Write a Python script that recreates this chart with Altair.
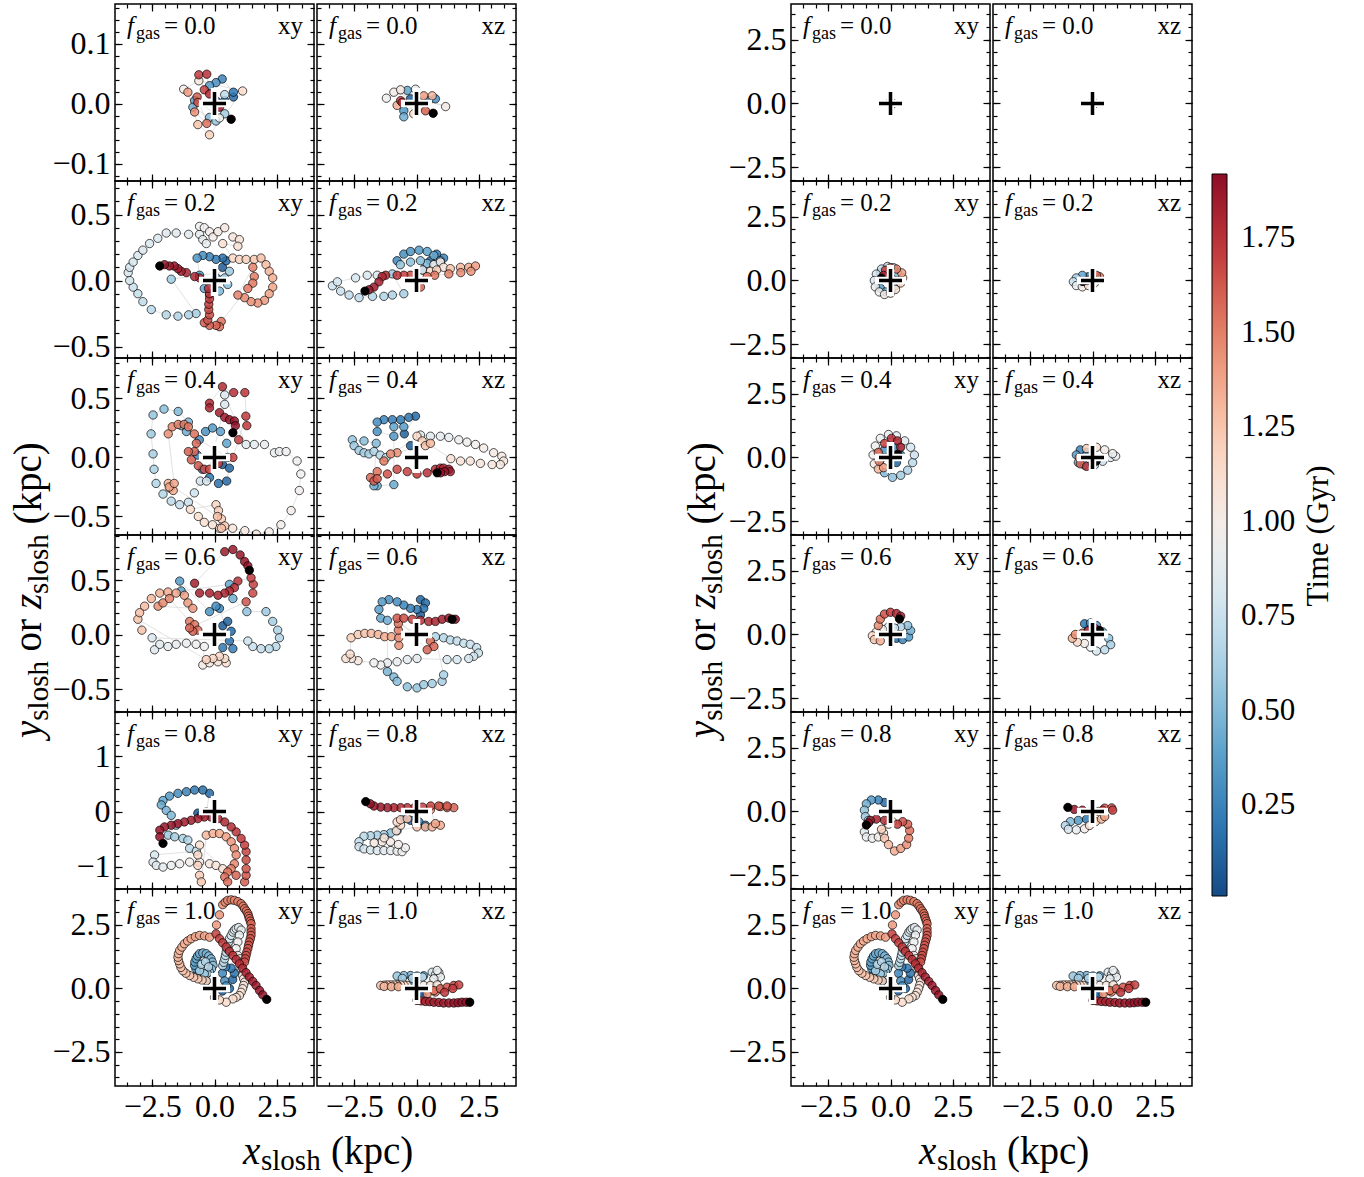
import altair as alt
import pandas as pd

FONT = "Liberation Serif"
T_DOMAIN = [0.01, 1.92]
X_DOMAIN = [-4.0, 4.0]
FGAS = ["0.0", "0.2", "0.4", "0.6", "0.8", "1.0"]
TIME_TICKS = [0.25, 0.5, 0.75, 1.0, 1.25, 1.5, 1.75]
X_MAJOR = [-2.5, 0.0, 2.5]

# ---- trajectories: [x, y (or z), time in Gyr] ----
L00_XY = [[0.06, 0.005, 0.05], [0.41, 0.005, 0.10], [0.76, 0.011, 0.15], [0.76, 0.019, 0.20], [0.31, 0.041, 0.25],
          [0.06, 0.035, 0.30], [-0.20, 0.030, 0.35], [-0.80, 0.005, 0.40], [-0.87, -0.006, 0.45], [-0.20, -0.023, 0.50],
          [0.06, -0.029, 0.55], [0.41, -0.017, 0.60], [0.41, 0.015, 0.70], [0.20, -0.024, 0.95], [-1.24, 0.024, 1.00],
          [-0.63, 0.038, 1.05], [1.13, 0.021, 1.15], [-0.20, -0.052, 1.20], [-0.67, -0.035, 1.25], [-1.07, 0.019, 1.40],
          [-0.80, -0.014, 1.45], [-0.31, -0.033, 1.55], [-0.70, 0.011, 1.60], [-0.67, 0.002, 1.65], [-0.41, 0.023, 1.70],
          [-0.63, 0.048, 1.72], [-0.31, 0.049, 1.75], [-0.20, 0.016, 1.80], [0.20, -0.006, 1.85], [0.67, -0.026, 1.92]]
L00_XZ = [[0.00, 0.002, 0.05], [-0.24, 0.008, 0.10], [0.49, 0.005, 0.20], [0.76, 0.008, 0.30], [-0.51, -0.012, 0.35],
          [-0.37, 0.022, 0.40], [-0.51, -0.022, 0.45], [-0.04, 0.024, 0.90], [-1.21, 0.009, 0.95], [-0.91, 0.019, 1.00],
          [1.17, -0.005, 1.02], [-0.64, 0.023, 1.05], [-0.11, -0.017, 1.15], [0.63, 0.013, 1.30], [-0.78, -0.003, 1.35],
          [0.29, 0.013, 1.40], [0.36, -0.012, 1.60], [-0.64, 0.005, 1.70], [-0.58, 0.002, 1.80], [0.67, -0.016, 1.92]]

L02_XY = [[0.08, 0.02, 0.05], [0.32, 0.10, 0.09], [0.47, 0.15, 0.13], [0.33, 0.17, 0.17], [0.06, 0.16, 0.21],
          [-0.20, 0.18, 0.25], [-0.47, 0.19, 0.29], [-0.70, 0.17, 0.33], [-0.60, 0.04, 0.37], [-0.41, -0.06, 0.41],
          [-0.20, -0.11, 0.45], [0.20, -0.08, 0.49], [0.53, -0.03, 0.52], [0.41, 0.02, 0.55], [0.60, 0.07, 0.58],
          [-1.74, 0.01, 0.59],
          [-0.74, -0.25, 0.61], [-1.04, -0.26, 0.63], [-1.47, -0.27, 0.65], [-1.94, -0.26, 0.67], [-2.54, -0.22, 0.69],
          [-2.88, -0.16, 0.71], [-3.08, -0.10, 0.73], [-3.27, -0.05, 0.75], [-3.41, 0.00, 0.77], [-3.47, 0.06, 0.78],
          [-3.41, 0.10, 0.79], [-3.27, 0.14, 0.80], [-3.08, 0.19, 0.81], [-2.88, 0.23, 0.82], [-2.61, 0.28, 0.83],
          [-2.28, 0.32, 0.84], [-1.94, 0.36, 0.85], [-1.54, 0.36, 0.86], [-1.04, 0.35, 0.87],
          [-0.60, 0.35, 0.88], [-0.47, 0.31, 0.90], [-0.33, 0.28, 0.92], [-0.60, 0.41, 0.94], [-0.41, 0.40, 0.96],
          [-0.20, 0.37, 0.98], [-0.06, 0.33, 1.00], [0.14, 0.37, 1.02], [0.41, 0.40, 1.04], [0.74, 0.33, 1.06],
          [1.00, 0.31, 1.08], [0.94, 0.26, 1.10], [0.33, 0.28, 1.12],
          [0.74, 0.17, 1.15], [1.00, 0.16, 1.18], [1.27, 0.16, 1.20], [1.60, 0.16, 1.23], [1.87, 0.17, 1.26],
          [2.07, 0.12, 1.29], [2.20, 0.07, 1.32], [2.34, 0.02, 1.35], [2.34, -0.05, 1.37], [2.20, -0.10, 1.39],
          [2.01, -0.15, 1.41], [1.74, -0.17, 1.43], [1.47, -0.16, 1.45], [1.21, -0.13, 1.47], [0.94, -0.11, 1.49],
          [1.54, 0.10, 1.50], [1.60, 0.03, 1.51], [1.54, -0.02, 1.52], [1.34, -0.06, 1.53],
          [0.27, -0.31, 1.55], [0.20, -0.35, 1.57], [0.06, -0.34, 1.59], [-0.20, -0.34, 1.61], [-0.41, -0.32, 1.62],
          [-0.27, -0.30, 1.64], [-0.20, -0.26, 1.66], [-0.23, -0.22, 1.68], [-0.23, -0.18, 1.70], [-0.20, -0.14, 1.72],
          [-0.20, -0.10, 1.74], [-0.24, -0.06, 1.76], [-0.60, 0.02, 1.78], [-0.80, 0.03, 1.80], [-1.13, 0.06, 1.82],
          [-1.34, 0.07, 1.84], [-1.47, 0.09, 1.86], [-1.62, 0.11, 1.87], [-1.81, 0.11, 1.88], [-2.01, 0.12, 1.90],
          [-2.20, 0.11, 1.92]]
L02_XZ = [[0.00, 0.00, 0.05], [0.24, 0.08, 0.10], [0.56, 0.15, 0.15], [0.81, 0.20, 0.20], [1.09, 0.17, 0.24],
          [-0.78, 0.15, 0.27], [-0.51, 0.20, 0.30], [-0.24, 0.22, 0.33], [0.10, 0.23, 0.36], [0.43, 0.22, 0.39],
          [0.70, 0.19, 0.42], [0.96, 0.15, 0.45], [0.70, 0.12, 0.48], [0.43, 0.13, 0.50], [0.16, 0.15, 0.52],
          [-0.24, 0.14, 0.54], [-0.65, 0.12, 0.56], [-0.97, 0.05, 0.58],
          [-0.51, -0.10, 0.62], [-0.97, -0.11, 0.64], [-1.31, -0.12, 0.66], [-1.77, -0.12, 0.68], [-2.31, -0.13, 0.70],
          [-2.71, -0.11, 0.72], [-3.05, -0.08, 0.74], [-3.38, -0.04, 0.76], [-3.18, -0.01, 0.78], [-2.45, 0.02, 0.80],
          [-1.98, 0.04, 0.82], [-1.58, 0.04, 0.84],
          [0.24, 0.08, 0.90], [0.70, 0.12, 0.95], [0.96, 0.14, 1.00], [1.09, 0.10, 1.05],
          [0.56, 0.07, 1.15], [0.81, 0.08, 1.20], [1.36, 0.09, 1.25], [1.77, 0.10, 1.30], [2.10, 0.10, 1.35],
          [2.37, 0.11, 1.40], [2.19, 0.07, 1.43], [1.78, 0.06, 1.46], [1.30, 0.05, 1.49], [0.73, 0.04, 1.52],
          [0.43, 0.03, 1.55], [0.16, -0.05, 1.60], [-0.24, 0.04, 1.65], [-0.51, 0.04, 1.70], [-0.78, 0.04, 1.74],
          [-1.24, 0.04, 1.78], [-1.38, 0.03, 1.80], [-1.51, -0.01, 1.83], [-1.71, -0.05, 1.86], [-1.91, -0.07, 1.89],
          [-2.07, -0.08, 1.92]]

L04_XY = [[0.00, 0.00, 0.05], [0.32, -0.06, 0.08], [0.60, -0.09, 0.11], [0.49, -0.20, 0.14], [0.16, -0.22, 0.17],
          [-0.20, -0.17, 0.20], [-0.49, -0.10, 0.23], [-0.69, 0.02, 0.26], [-0.61, 0.15, 0.29], [-0.36, 0.22, 0.32],
          [-0.08, 0.25, 0.35], [0.24, 0.22, 0.38], [0.49, 0.12, 0.40], [0.53, 0.00, 0.42],
          [-1.13, 0.22, 0.44], [-1.34, 0.27, 0.46], [-1.05, 0.30, 0.48], [-1.46, 0.39, 0.50], [-2.03, 0.41, 0.53],
          [-2.47, 0.36, 0.56], [-2.55, 0.20, 0.59], [-2.47, 0.03, 0.62], [-2.43, -0.10, 0.64], [-2.35, -0.22, 0.66],
          [-2.07, -0.31, 0.68], [-1.74, -0.37, 0.70], [-1.40, -0.40, 0.72], [-1.05, -0.38, 0.74], [-0.81, -0.30, 0.76],
          [-0.57, -0.20, 0.78], [-0.32, -0.20, 0.80], [0.41, 0.45, 0.82], [0.41, 0.53, 0.84],
          [1.27, 0.11, 0.86], [1.60, 0.11, 0.88], [2.01, 0.11, 0.90], [2.41, 0.04, 0.92], [2.61, 0.05, 0.93],
          [2.88, 0.05, 0.94], [3.32, -0.03, 0.95], [3.47, -0.14, 0.96], [3.41, -0.28, 0.97], [3.08, -0.45, 0.98],
          [2.67, -0.57, 0.99], [2.20, -0.63, 1.00], [1.68, -0.65, 1.02], [1.22, -0.62, 1.03],
          [0.73, -0.60, 1.05], [0.20, -0.60, 1.08], [-0.08, -0.57, 1.10], [-0.41, -0.55, 1.12], [-0.65, -0.50, 1.13],
          [-0.97, -0.44, 1.14],
          [0.06, -0.40, 1.18], [0.16, -0.45, 1.20], [0.28, -0.52, 1.22], [0.41, -0.58, 1.24], [0.28, -0.60, 1.26],
          [0.12, -0.50, 1.28],
          [-1.86, -0.22, 1.32], [-1.78, -0.26, 1.34], [-1.66, -0.28, 1.36], [-1.82, -0.25, 1.37], [-1.62, -0.22, 1.38],
          [-1.86, 0.20, 1.45], [-1.70, 0.26, 1.47], [-1.46, 0.28, 1.49], [-1.22, 0.28, 1.51], [-1.05, 0.26, 1.53],
          [-0.81, 0.20, 1.55], [-0.73, 0.12, 1.57], [-0.81, 0.05, 1.59], [-1.05, 0.05, 1.60], [-0.93, -0.02, 1.61],
          [-0.65, -0.07, 1.63], [-0.41, -0.10, 1.65], [-0.20, -0.10, 1.67], [0.16, -0.05, 1.69], [0.74, 0.00, 1.70],
          [0.97, 0.15, 1.71], [1.26, 0.35, 1.72], [1.30, 0.27, 1.73], [1.22, 0.55, 1.74], [0.77, 0.55, 1.76],
          [0.32, 0.60, 1.78], [-0.20, 0.46, 1.80], [-0.20, 0.42, 1.81], [0.20, 0.38, 1.84], [0.41, 0.34, 1.86],
          [0.60, 0.32, 1.88], [0.80, 0.31, 1.89], [0.84, 0.27, 1.90], [0.74, 0.21, 1.92]]
L04_XZ = [[0.00, 0.00, 0.05], [-0.24, 0.10, 0.08], [-0.49, 0.20, 0.11], [-0.04, 0.35, 0.14], [-0.31, 0.34, 0.17],
          [-0.64, 0.32, 0.20], [-0.97, 0.32, 0.23], [-1.31, 0.32, 0.26], [-1.58, 0.30, 0.29], [-1.58, 0.22, 0.31],
          [-0.91, 0.18, 0.34], [-0.51, 0.26, 0.37], [-0.91, 0.26, 0.40], [-0.91, -0.23, 0.43], [-1.58, -0.24, 0.45],
          [-1.71, -0.24, 0.47],
          [-1.62, 0.12, 0.50], [-2.11, 0.14, 0.53], [-2.58, 0.15, 0.56], [-2.51, 0.10, 0.58], [-2.31, 0.06, 0.60],
          [-2.11, 0.04, 0.62], [-1.91, 0.03, 0.64], [-1.71, 0.05, 0.66], [-1.46, 0.02, 0.68], [-1.22, 0.00, 0.70],
          [0.16, 0.19, 0.85], [0.56, 0.18, 0.87], [0.96, 0.18, 0.89], [1.30, 0.17, 0.91], [1.70, 0.15, 0.93],
          [2.03, 0.13, 0.95], [2.37, 0.11, 0.97], [2.70, 0.08, 0.99], [3.10, 0.04, 1.01], [3.43, 0.01, 1.03],
          [3.50, -0.03, 1.04], [3.37, -0.06, 1.05], [3.04, -0.06, 1.06], [2.57, -0.05, 1.07], [2.16, -0.03, 1.08],
          [1.77, -0.03, 1.09], [1.38, -0.01, 1.10],
          [0.02, 0.18, 1.15], [0.23, 0.14, 1.20], [0.36, 0.10, 1.25], [0.56, 0.12, 1.30],
          [-0.78, 0.04, 1.45], [-1.04, 0.03, 1.48], [-1.31, -0.03, 1.51], [-1.58, -0.12, 1.54], [-1.85, -0.17, 1.57],
          [-1.71, -0.20, 1.60], [-1.58, -0.18, 1.62], [-1.17, -0.14, 1.64], [-0.78, -0.10, 1.67], [-0.37, -0.12, 1.70],
          [0.02, -0.14, 1.72], [0.43, -0.13, 1.75],
          [0.76, -0.10, 1.78], [0.96, -0.09, 1.80], [1.09, -0.09, 1.82], [1.30, -0.10, 1.84], [1.36, -0.12, 1.86],
          [1.13, -0.12, 1.88], [0.97, -0.13, 1.90], [0.83, -0.13, 1.92]]

L06_XY = [[0.00, 0.00, 0.05], [0.33, 0.08, 0.08], [0.53, 0.12, 0.11], [0.67, 0.03, 0.14], [0.60, -0.06, 0.17],
          [0.33, -0.12, 0.20], [0.74, -0.13, 0.23], [0.20, 0.24, 0.26], [0.06, 0.26, 0.29], [-0.20, 0.21, 0.32],
          [-1.40, 0.49, 0.36], [-1.34, 0.40, 0.39], [0.60, 0.46, 0.42], [0.74, 0.33, 0.45],
          [1.30, 0.21, 0.55], [2.07, 0.21, 0.58], [2.34, 0.12, 0.61], [2.54, 0.04, 0.64], [2.61, -0.03, 0.66],
          [2.47, -0.11, 0.68], [2.20, -0.13, 0.70], [1.87, -0.13, 0.72], [1.54, -0.11, 0.74], [1.34, -0.06, 0.76],
          [-2.51, -0.03, 0.82], [-2.41, -0.14, 0.84], [-2.20, -0.09, 0.86], [-1.87, -0.11, 0.88], [-1.54, -0.09, 0.90],
          [-1.13, -0.08, 0.92], [-0.74, -0.09, 0.94], [-0.41, -0.11, 0.96],
          [-0.47, -0.28, 1.02], [-0.20, -0.26, 1.05], [0.14, -0.25, 1.08], [0.47, -0.26, 1.11], [0.41, -0.22, 1.13],
          [0.20, -0.20, 1.15], [-0.06, -0.22, 1.17], [-0.33, -0.23, 1.19],
          [-3.08, 0.14, 1.25], [-2.92, 0.04, 1.26], [-3.01, 0.20, 1.27], [-2.81, 0.26, 1.29], [-2.54, 0.33, 1.31],
          [-2.20, 0.38, 1.33], [-1.87, 0.39, 1.35], [-1.54, 0.38, 1.37], [-1.21, 0.36, 1.39], [-1.07, 0.29, 1.41],
          [-0.87, 0.24, 1.43], [-2.27, 0.26, 1.45], [-2.07, 0.29, 1.47], [-1.81, 0.33, 1.49],
          [-1.00, 0.12, 1.52], [-0.80, 0.09, 1.54], [-0.67, 0.04, 1.56], [-0.87, 0.03, 1.58], [-1.00, 0.06, 1.60],
          [1.27, 0.30, 1.64], [1.54, 0.38, 1.67], [1.56, 0.46, 1.70], [1.47, 0.52, 1.72], [0.94, 0.49, 1.75],
          [0.80, 0.43, 1.77], [0.60, 0.40, 1.79], [0.41, 0.38, 1.80], [0.14, 0.36, 1.81], [-0.20, 0.38, 1.82],
          [-0.60, 0.38, 1.83], [-0.80, 0.47, 1.84], [0.41, 0.76, 1.86], [0.74, 0.78, 1.87], [1.03, 0.73, 1.88],
          [1.21, 0.67, 1.89], [1.34, 0.63, 1.90], [1.40, 0.59, 1.92]]
L06_XZ = [[0.00, 0.00, 0.05], [0.16, 0.18, 0.08], [0.16, 0.32, 0.11], [0.36, 0.29, 0.14], [0.29, 0.24, 0.17],
          [0.02, 0.23, 0.20], [-0.24, 0.24, 0.23], [-0.51, 0.27, 0.26], [-0.78, 0.30, 0.29], [-1.11, 0.32, 0.32],
          [-1.38, 0.30, 0.35], [-1.51, 0.23, 0.38], [-1.44, 0.15, 0.41], [-1.17, 0.13, 0.44],
          [-1.17, -0.34, 0.48], [-0.91, -0.39, 0.50], [-0.78, -0.43, 0.52], [-0.37, -0.48, 0.54], [0.02, -0.49, 0.56],
          [0.29, -0.46, 0.58], [0.63, -0.45, 0.60], [1.03, -0.43, 0.62], [1.09, -0.37, 0.63],
          [0.76, -0.02, 0.66], [1.09, -0.03, 0.68], [1.36, -0.05, 0.70], [1.63, -0.06, 0.72], [1.90, -0.08, 0.73],
          [2.16, -0.09, 0.74], [2.42, -0.12, 0.75], [2.49, -0.17, 0.76], [2.30, -0.20, 0.77], [2.10, -0.22, 0.78],
          [1.63, -0.23, 0.79], [1.23, -0.23, 0.80],
          [0.02, -0.22, 0.86], [-0.37, -0.23, 0.88], [-0.78, -0.25, 0.90], [-1.17, -0.26, 0.92], [-1.44, -0.28, 0.94],
          [-1.71, -0.26, 0.96],
          [-2.35, -0.24, 1.05], [-2.61, -0.22, 1.08], [-2.84, -0.22, 1.10], [-2.67, -0.18, 1.13], [-2.63, -0.03, 1.20],
          [-2.35, 0.00, 1.23], [-2.08, 0.01, 1.26], [-1.82, 0.01, 1.29], [-1.54, 0.00, 1.32], [-1.28, -0.02, 1.35],
          [-1.01, -0.02, 1.38],
          [-0.71, -0.10, 1.45], [-0.71, -0.03, 1.48], [-0.73, 0.04, 1.51], [-0.73, 0.10, 1.54], [0.56, -0.06, 1.57],
          [0.70, -0.11, 1.58], [0.43, -0.14, 1.59],
          [-0.78, 0.15, 1.62], [-0.51, 0.15, 1.66], [-0.17, 0.14, 1.70], [0.16, 0.13, 1.74], [0.49, 0.12, 1.78],
          [0.76, 0.12, 1.81], [1.03, 0.14, 1.84], [1.30, 0.15, 1.87], [1.56, 0.14, 1.90], [1.43, 0.14, 1.92]]

L08_XY = [[0.00, 0.00, 0.05], [-0.67, -0.03, 0.07], [-0.53, -0.06, 0.09], [-0.33, -0.01, 0.11], [-0.20, 0.33, 0.13],
          [-0.47, 0.39, 0.16], [-0.80, 0.39, 0.20], [-1.13, 0.36, 0.25], [-1.47, 0.33, 0.30], [-1.81, 0.28, 0.35],
          [-2.07, 0.20, 0.40], [-2.14, 0.12, 0.43], [-1.94, 0.02, 0.46], [-1.74, -0.07, 0.49], [-1.54, -0.25, 0.55],
          [-1.86, -0.43, 0.58], [-1.60, -0.46, 0.60], [-1.27, -0.49, 0.63], [-1.07, -0.52, 0.66], [-1.00, -0.67, 0.70],
          [-0.73, -0.72, 0.73],
          [-2.41, -0.79, 0.80], [-2.47, -0.92, 0.83], [-2.34, -0.98, 0.86], [-2.07, -1.01, 0.89], [-1.74, -0.98, 0.92],
          [-1.40, -0.95, 0.95], [-1.00, -0.92, 0.98], [-0.60, -0.92, 1.01], [-0.20, -0.95, 1.04], [0.06, -0.98, 1.07],
          [0.33, -1.04, 1.10],
          [-0.60, -0.61, 1.12], [-0.67, -0.79, 1.15], [-0.67, -0.98, 1.18], [-0.60, -1.16, 1.21], [-0.53, -1.28, 1.24],
          [-0.33, -0.43, 1.30], [-0.06, -0.40, 1.33], [0.20, -0.40, 1.36], [0.47, -0.46, 1.39], [0.67, -0.55, 1.42],
          [0.80, -0.67, 1.44], [0.87, -0.79, 1.46], [0.80, -0.95, 1.48], [0.67, -1.04, 1.50],
          [0.53, -1.10, 1.53], [0.41, -1.19, 1.55], [0.53, -1.28, 1.57], [0.87, -1.16, 1.59], [1.21, -1.28, 1.61],
          [1.27, -1.16, 1.63], [1.27, -1.04, 1.65],
          [1.27, -0.88, 1.67], [1.27, -0.73, 1.69], [1.21, -0.61, 1.71], [1.07, -0.49, 1.73], [0.87, -0.37, 1.75],
          [0.67, -0.28, 1.77], [0.41, -0.19, 1.79], [0.14, -0.13, 1.80], [-0.14, -0.10, 1.81], [-0.41, -0.10, 1.82],
          [-0.67, -0.13, 1.83], [-0.94, -0.16, 1.84], [-1.21, -0.19, 1.85], [-1.47, -0.22, 1.86], [-1.74, -0.25, 1.87],
          [-2.01, -0.28, 1.88], [-2.20, -0.34, 1.89], [-2.20, -0.46, 1.90], [-2.07, -0.58, 1.92]]
L08_XZ = [[0.00, 0.00, 0.05], [-0.51, -0.13, 0.10], [-0.24, -0.16, 0.15], [0.10, -0.19, 0.20], [0.36, -0.25, 0.25],
          [-0.78, -0.35, 0.50], [-1.04, -0.39, 0.55], [-1.31, -0.42, 0.60], [-1.58, -0.43, 0.63], [-1.85, -0.44, 0.66],
          [-2.11, -0.45, 0.69], [-2.31, -0.55, 0.72],
          [-2.31, -0.64, 0.75], [-2.11, -0.68, 0.78], [-1.85, -0.70, 0.81], [-1.58, -0.71, 0.84], [-1.31, -0.71, 0.87],
          [-1.04, -0.71, 0.90], [-0.78, -0.72, 0.92], [-0.58, -0.73, 0.94], [-0.45, -0.66, 0.96],
          [-0.73, -0.60, 0.98], [-1.05, -0.55, 1.00], [-1.38, -0.55, 1.02], [-1.70, -0.57, 1.04], [-1.30, -0.48, 1.07],
          [-0.81, -0.35, 1.10], [-0.64, -0.25, 1.12],
          [-0.78, -0.19, 1.15], [-0.64, -0.15, 1.18], [-0.37, -0.13, 1.21], [-0.04, -0.20, 1.24], [0.02, -0.28, 1.27],
          [0.36, -0.28, 1.30], [0.63, -0.28, 1.33], [0.96, -0.25, 1.36], [0.76, -0.22, 1.38],
          [0.56, 0.03, 1.45], [0.96, 0.09, 1.50], [1.23, 0.07, 1.55], [1.50, 0.07, 1.60], [1.23, 0.10, 1.62],
          [0.89, 0.10, 1.65], [0.57, 0.10, 1.68], [0.24, 0.08, 1.70],
          [-0.08, 0.07, 1.72], [-0.37, 0.07, 1.75], [-0.64, 0.07, 1.78], [-0.91, 0.07, 1.81], [-1.17, 0.07, 1.84],
          [-1.44, 0.08, 1.87], [-1.71, 0.10, 1.89], [-1.86, 0.14, 1.90], [-2.04, 0.18, 1.92]]

L10_XY = [[0.00, 0.00, 0.05], [0.32, -0.10, 0.08], [0.60, 0.00, 0.11], [0.73, 0.35, 0.14], [0.80, 0.60, 0.17],
          [0.67, 0.80, 0.20], [0.45, 0.85, 0.23], [0.32, 0.60, 0.26], [0.41, 0.30, 0.29], [0.47, 0.10, 0.31],
          [-0.32, 0.30, 0.33], [-0.50, 0.46, 0.34], [-0.67, 0.64, 0.35], [-0.75, 0.78, 0.365], [-0.80, 0.91, 0.38],
          [-0.79, 1.04, 0.395], [-0.74, 1.17, 0.41], [-0.68, 1.28, 0.425], [-0.60, 1.37, 0.44], [-0.47, 1.40, 0.455],
          [-0.33, 1.37, 0.47], [-0.23, 1.28, 0.485], [-0.14, 1.17, 0.50], [-0.09, 1.04, 0.515], [-0.06, 0.91, 0.53],
          [-0.12, 0.77, 0.545], [-0.20, 0.64, 0.56], [-0.30, 0.60, 0.575], [-0.41, 0.58, 0.59],
          [-0.60, 0.70, 0.62], [-0.53, 0.95, 0.64], [-0.36, 1.05, 0.66], [-0.24, 0.85, 0.67],
          [0.33, 0.90, 0.68], [0.37, 1.03, 0.695], [0.41, 1.17, 0.71], [0.44, 1.30, 0.725], [0.47, 1.43, 0.74],
          [0.50, 1.57, 0.755], [0.53, 1.70, 0.77], [0.57, 1.83, 0.785], [0.60, 1.96, 0.80], [0.67, 2.09, 0.815],
          [0.74, 2.22, 0.83], [0.80, 2.30, 0.845], [0.87, 2.36, 0.86],
          [0.97, 2.40, 0.88], [1.07, 2.30, 0.90], [1.00, 2.10, 0.92], [0.94, 1.83, 0.94], [0.87, 1.57, 0.96],
          [0.94, 1.30, 0.98], [1.03, 1.17, 0.99],
          [1.00, 1.04, 1.00], [1.10, 0.91, 1.01], [1.07, 0.78, 1.02], [1.17, 0.64, 1.03], [1.13, 0.51, 1.04],
          [1.17, 0.38, 1.05], [1.21, 0.25, 1.06], [1.17, 0.12, 1.07], [1.13, -0.01, 1.08], [1.07, -0.15, 1.09],
          [1.00, -0.28, 1.10], [0.87, -0.35, 1.11], [0.74, -0.41, 1.12], [0.47, -0.54, 1.14], [0.20, -0.45, 1.16],
          [0.00, -0.35, 1.18],
          [-0.33, 0.30, 1.20], [-0.50, 0.33, 1.21], [-0.67, 0.38, 1.22], [-0.84, 0.44, 1.23], [-1.00, 0.51, 1.24],
          [-1.15, 0.60, 1.25], [-1.27, 0.70, 1.26], [-1.35, 0.83, 1.27], [-1.40, 0.97, 1.28], [-1.45, 1.10, 1.29],
          [-1.47, 1.23, 1.30], [-1.45, 1.37, 1.31], [-1.40, 1.50, 1.32], [-1.31, 1.63, 1.33], [-1.21, 1.76, 1.34],
          [-1.08, 1.87, 1.35], [-0.94, 1.96, 1.36], [-0.77, 2.04, 1.37], [-0.60, 2.09, 1.38], [-0.40, 2.07, 1.39],
          [-0.20, 2.02, 1.40],
          [0.08, 2.50, 1.42], [0.20, 2.90, 1.43], [0.33, 3.30, 1.45], [0.43, 3.40, 1.46], [0.53, 3.47, 1.47],
          [0.67, 3.49, 1.48], [0.80, 3.47, 1.49], [0.94, 3.42, 1.50], [1.07, 3.34, 1.51], [1.15, 3.24, 1.52],
          [1.21, 3.14, 1.53], [1.28, 3.05, 1.54], [1.34, 2.95, 1.55], [1.37, 2.85, 1.56], [1.40, 2.75, 1.57],
          [1.44, 2.65, 1.58], [1.47, 2.55, 1.59], [1.47, 2.36, 1.60], [1.47, 2.22, 1.61], [1.47, 2.09, 1.62],
          [1.44, 1.96, 1.625], [1.40, 1.83, 1.63], [1.37, 1.70, 1.635], [1.34, 1.57, 1.64], [1.30, 1.43, 1.645],
          [1.27, 1.30, 1.65], [1.24, 1.17, 1.655], [1.21, 1.04, 1.66],
          [0.06, 2.15, 1.70], [0.20, 1.96, 1.71], [0.33, 1.80, 1.72], [0.47, 1.63, 1.73], [0.60, 1.46, 1.74],
          [0.74, 1.30, 1.75], [0.87, 1.14, 1.76], [1.00, 0.97, 1.77], [1.13, 0.80, 1.79], [1.27, 0.62, 1.81],
          [1.40, 0.45, 1.83], [1.54, 0.28, 1.85], [1.67, 0.12, 1.87], [1.81, -0.08, 1.89], [1.94, -0.25, 1.90],
          [2.10, -0.43, 1.92]]
L10_XZ = [[0.00, 0.00, 0.05], [0.16, -0.14, 0.10], [0.23, -0.28, 0.15], [-0.11, 0.25, 0.25], [0.29, 0.50, 0.40],
          [0.02, 0.49, 0.44], [-0.24, 0.51, 0.48], [-0.51, 0.51, 0.52], [-0.78, 0.49, 0.56], [-0.57, 0.40, 0.60],
          [-0.16, 0.40, 0.65], [0.24, 0.45, 0.70],
          [0.63, 0.64, 0.80], [0.76, 0.54, 0.83], [0.90, 0.62, 0.86], [0.96, 0.45, 0.89], [0.70, 0.38, 0.92],
          [0.83, 0.71, 0.95],
          [0.29, 0.12, 1.00], [0.56, 0.12, 1.04], [0.83, 0.14, 1.08],
          [-0.37, 0.12, 1.15], [-0.50, 0.13, 1.165], [-0.64, 0.14, 1.18], [-0.78, 0.14, 1.195], [-0.91, 0.14, 1.21],
          [-1.04, 0.14, 1.225], [-1.17, 0.14, 1.24], [-1.30, 0.13, 1.255], [-1.44, 0.12, 1.27],
          [-1.30, 0.08, 1.30], [-1.01, 0.07, 1.32], [-0.73, 0.07, 1.34],
          [0.43, -0.21, 1.45], [0.76, -0.14, 1.50], [0.70, -0.08, 1.55], [0.96, -0.01, 1.60], [1.23, 0.05, 1.64],
          [1.50, 0.12, 1.68], [1.70, 0.14, 1.70], [1.46, 0.00, 1.72], [1.13, -0.15, 1.74],
          [0.02, -0.47, 1.78], [0.19, -0.49, 1.795], [0.36, -0.51, 1.81], [0.53, -0.52, 1.825], [0.70, -0.54, 1.84],
          [0.90, -0.55, 1.855], [1.09, -0.57, 1.87], [1.30, -0.57, 1.88], [1.50, -0.57, 1.89], [1.67, -0.56, 1.895],
          [1.83, -0.54, 1.90], [2.00, -0.54, 1.91], [2.14, -0.54, 1.92]]

R00_XY = [[0.00, 0.00, 0.05], [0.04, 0.05, 0.30], [-0.04, 0.03, 0.60], [0.00, -0.05, 1.00], [0.06, -0.02, 1.50],
          [0.06, -0.04, 1.92]]
R00_XZ = [[0.00, 0.00, 0.05], [0.04, 0.03, 0.30], [-0.04, 0.02, 0.60], [0.02, -0.03, 1.00], [0.06, -0.01, 1.50],
          [0.06, -0.03, 1.92]]
R02_XY = [[0.00, 0.00, 0.05], [0.16, 0.20, 0.10], [0.04, 0.40, 0.15], [-0.20, 0.45, 0.20], [-0.41, 0.30, 0.25],
          [-0.49, 0.00, 0.30], [-0.41, -0.30, 0.35], [-0.20, -0.45, 0.40], [0.04, -0.40, 0.45], [0.20, -0.20, 0.50],
          [0.28, 0.30, 0.60], [0.12, 0.50, 0.65], [-0.12, 0.55, 0.70], [-0.36, 0.45, 0.75], [-0.57, 0.25, 0.80],
          [-0.65, 0.00, 0.85], [-0.61, -0.25, 0.90], [-0.45, -0.45, 0.95], [-0.24, -0.55, 1.00], [0.00, -0.50, 1.05],
          [0.20, -0.35, 1.10], [0.41, -0.10, 1.20], [0.49, 0.10, 1.30], [0.45, 0.30, 1.40], [0.24, 0.45, 1.50],
          [0.00, 0.50, 1.60], [-0.20, 0.40, 1.70], [-0.28, 0.20, 1.80], [-0.37, 0.09, 1.92]]
R02_XZ = [[0.00, 0.00, 0.05], [-0.16, 0.15, 0.20], [-0.41, 0.20, 0.40], [-0.65, 0.10, 0.60], [-0.77, -0.05, 0.75],
          [-0.65, -0.20, 0.90], [-0.41, -0.25, 1.00], [-0.16, -0.20, 1.10], [0.08, -0.10, 1.20], [0.24, 0.05, 1.40],
          [0.28, 0.15, 1.50], [0.16, 0.20, 1.60], [0.00, 0.10, 1.70], [-0.20, 0.00, 1.80], [-0.39, -0.04, 1.92]]
R04_XY = [[0.00, 0.00, 0.05], [0.24, -0.20, 0.12], [0.41, 0.10, 0.20], [0.16, 0.40, 0.28], [-0.24, 0.30, 0.35],
          [-0.41, -0.10, 0.40], [-0.24, -0.60, 0.50], [0.08, -0.78, 0.55], [0.41, -0.70, 0.60], [0.69, -0.50, 0.65],
          [0.89, -0.20, 0.70], [0.96, 0.10, 0.75], [0.81, 0.40, 0.80], [0.57, 0.65, 0.85], [0.24, 0.85, 0.88],
          [-0.08, 0.90, 0.90], [-0.41, 0.75, 0.93], [-0.61, 0.45, 0.95], [-0.70, 0.10, 0.97], [-0.65, -0.25, 1.00],
          [-0.49, -0.45, 1.30], [-0.28, -0.40, 1.40], [-0.45, -0.15, 1.50], [-0.49, 0.20, 1.60], [-0.24, 0.55, 1.70],
          [0.04, 0.75, 1.75], [0.28, 0.65, 1.80], [0.41, 0.40, 1.85], [0.29, 0.12, 1.92]]
R04_XZ = [[0.00, 0.00, 0.05], [-0.24, 0.20, 0.15], [-0.49, 0.30, 0.25], [-0.65, 0.10, 0.35], [-0.57, -0.20, 0.45],
          [-0.32, -0.30, 0.55], [0.08, -0.30, 0.65], [0.41, -0.15, 0.75], [0.73, 0.00, 0.85], [0.93, 0.05, 0.90],
          [0.81, 0.15, 0.95], [0.49, 0.30, 1.00], [0.16, 0.40, 1.10], [-0.24, 0.35, 1.20], [-0.53, 0.00, 1.40],
          [-0.49, -0.25, 1.60], [-0.24, -0.35, 1.75], [0.00, -0.25, 1.85], [0.15, -0.14, 1.92]]
R06_XY = [[0.00, 0.00, 0.05], [0.24, -0.15, 0.15], [0.49, -0.20, 0.25], [0.73, -0.10, 0.35], [0.81, 0.15, 0.45],
          [0.69, 0.35, 0.55], [0.41, 0.30, 0.65], [0.16, 0.25, 0.75], [-0.08, 0.30, 0.85], [-0.32, 0.20, 0.95],
          [-0.57, 0.10, 1.05], [-0.73, -0.05, 1.15], [-0.65, -0.20, 1.25], [-0.41, -0.25, 1.35], [-0.49, 0.35, 1.45],
          [-0.41, 0.60, 1.55], [-0.24, 0.80, 1.65], [0.00, 0.87, 1.72], [0.24, 0.82, 1.80], [0.41, 0.72, 1.86],
          [0.36, 0.61, 1.92]]
R06_XZ = [[0.00, 0.00, 0.05], [-0.16, 0.25, 0.12], [-0.32, 0.42, 0.20], [-0.08, 0.45, 0.28], [0.16, 0.35, 0.35],
          [0.41, 0.10, 0.45], [0.65, -0.15, 0.55], [0.73, -0.40, 0.62], [0.49, -0.60, 0.70], [0.16, -0.65, 0.78],
          [-0.08, -0.50, 0.85], [-0.32, -0.35, 1.00], [-0.61, -0.30, 1.15], [-0.81, -0.15, 1.30], [-0.69, 0.00, 1.45],
          [-0.41, 0.05, 1.60], [-0.16, 0.15, 1.75], [0.08, 0.25, 1.85], [0.28, 0.16, 1.92]]
R08_XY = [[0.00, 0.00, 0.05], [-0.24, 0.35, 0.15], [-0.49, 0.45, 0.25], [-0.77, 0.45, 0.35], [-0.97, 0.30, 0.45],
          [-1.05, 0.05, 0.55], [-1.01, -0.20, 0.60], [-0.89, -0.35, 0.65], [-1.05, -0.80, 0.85], [-0.97, -1.00, 0.90],
          [-0.73, -1.05, 0.95], [-0.49, -1.00, 1.00], [-0.28, -0.85, 1.05], [-0.08, -0.50, 1.08], [0.08, -0.40, 1.12],
          [-0.36, -0.70, 1.20], [-0.24, -1.05, 1.25], [-0.08, -1.30, 1.30], [0.16, -1.55, 1.35], [0.41, -1.45, 1.40],
          [0.65, -1.30, 1.45], [0.73, -1.05, 1.50], [0.77, -0.75, 1.55], [0.69, -0.50, 1.60], [0.49, -0.40, 1.65],
          [0.28, -0.50, 1.70], [-0.24, -0.35, 1.78], [-0.57, -0.30, 1.82], [-0.81, -0.35, 1.86], [-0.89, -0.45, 1.89],
          [-0.97, -0.53, 1.92]]
R08_XZ = [[0.00, 0.00, 0.05], [-0.24, -0.30, 0.20], [-0.57, -0.35, 0.35], [-0.89, -0.40, 0.50], [-1.09, -0.55, 0.65],
          [-0.97, -0.70, 0.80], [-0.65, -0.72, 0.90], [-0.32, -0.68, 1.00], [-0.12, -0.55, 1.10], [0.12, -0.40, 1.20],
          [0.36, -0.30, 1.30], [0.49, -0.20, 1.40], [0.24, 0.00, 1.50], [0.49, 0.13, 1.60], [0.77, 0.14, 1.65],
          [0.81, 0.05, 1.70], [0.41, 0.05, 1.75], [0.00, 0.05, 1.80], [-0.41, 0.05, 1.85], [-0.73, 0.08, 1.88],
          [-0.99, 0.16, 1.92]]


def ticks(lo, hi, step):
    n = int(round((hi - lo) / step))
    return [round(lo + i * step, 4) for i in range(n + 1)]


X_MINOR = ticks(-3.5, 3.5, 0.5)
MAJ, MIN = 7, 4
PW = 199

LEFT_ROWS = [
    (L00_XY, L00_XZ, [-0.129, 0.166], [-0.1, 0.0, 0.1], ticks(-0.12, 0.16, 0.02), ".1f", 177),
    (L02_XY, L02_XZ, [-0.587, 0.754], [-0.5, 0.0, 0.5], ticks(-0.5, 0.7, 0.1), ".1f", 177),
    (L04_XY, L04_XZ, [-0.657, 0.843], [-0.5, 0.0, 0.5], ticks(-0.6, 0.8, 0.1), ".1f", 177),
    (L06_XY, L06_XZ, [-0.711, 0.913], [-0.5, 0.0, 0.5], ticks(-0.7, 0.9, 0.1), ".1f", 177),
    (L08_XY, L08_XZ, [-1.409, 1.809], [-1, 0, 1], ticks(-1.4, 1.8, 0.2), "d", 177),
    (L10_XY, L10_XZ, [-3.839, 3.917], [-2.5, 0.0, 2.5], ticks(-3.5, 3.5, 0.5), ".1f", 197),
]
RMAJ = [-2.5, 0.0, 2.5]
RMIN = ticks(-3.5, 3.5, 0.5)
RIGHT_ROWS = [
    (R00_XY, R00_XZ, [-3.04, 3.90], RMAJ, RMIN, ".1f", 177),
    (R02_XY, R02_XZ, [-3.04, 3.90], RMAJ, RMIN, ".1f", 177),
    (R04_XY, R04_XZ, [-3.04, 3.90], RMAJ, RMIN, ".1f", 177),
    (R06_XY, R06_XZ, [-3.04, 3.90], RMAJ, RMIN, ".1f", 177),
    (R08_XY, R08_XZ, [-3.04, 3.90], RMAJ, RMIN, ".1f", 177),
    (L10_XY, L10_XZ, [-3.839, 3.917], RMAJ, RMIN, ".1f", 197),
]

ONE = pd.DataFrame({"k": [0]})
ORIGIN = pd.DataFrame({"x": [0.0], "y": [0.0]})
CSCALE = alt.Scale(scheme="redblue", reverse=True, domain=T_DOMAIN)
LEGEND = alt.Legend(orient="none", legendX=1097, legendY=170, direction="vertical",
                    gradientLength=722, gradientThickness=15, gradientStrokeColor="black",
                    gradientStrokeWidth=1, values=TIME_TICKS, format=".2f", labelFont=FONT,
                    labelFontSize=31, labelColor="black", labelOffset=14, labelOverlap=False,
                    title=None, padding=0)
PLUS = "M-1,0H1M0,-1V1"


def axis(orient, values, size, labels=False, fmt=None):
    kw = dict(orient=orient, values=values, tickSize=size, offset=-size, domain=False,
              grid=False, labels=labels, title=None, ticks=True, tickColor="black",
              tickWidth=1.2, zindex=1)
    if labels:
        kw.update(format=fmt, labelFont=FONT, labelFontSize=32, labelColor="black",
                  labelPadding=5, labelOverlap=False, labelFlush=False, labelBound=False)
    return alt.Axis(**kw)


def text(s, x, y, size, italic=False, align="left", angle=0):
    return alt.Chart(ONE).mark_text(
        text=s, font=FONT, fontSize=size, fontStyle="italic" if italic else "normal",
        align=align, baseline="alphabetic", angle=angle, color="black"
    ).encode(x=alt.value(x), y=alt.value(y))


def y_title(xb):
    y0 = 203
    return [text("y", xb, y0, 39, italic=True, angle=270),
            text("slosh", xb + 7, y0 - 17.3, 29, angle=270),
            text("or", xb, 116.4, 39, angle=270),
            text("z", xb, 74.1, 39, italic=True, angle=270),
            text("slosh", xb + 7, 58.9, 29, angle=270),
            text("(kpc)", xb, -10.5, 39, angle=270)]


def x_title():
    return [text("x", 128, 275, 39, italic=True),
            text("slosh", 146, 281, 29),
            text("(kpc)", 216, 275, 39)]


def panel(rows, ydom, ymaj, ymin, yfmt, fg, proj, height, xlab, ylab, extras=(), legend=False):
    df = pd.DataFrame(rows, columns=["x", "y", "t"]).sort_values("t").reset_index(drop=True)
    end = df.tail(1)
    xs = alt.Scale(domain=X_DOMAIN, nice=False, zero=False)
    ys = alt.Scale(domain=ydom, nice=False, zero=False)
    line = alt.Chart(df).mark_line(color="#d9d9d9", strokeWidth=0.8, clip=True).encode(
        x=alt.X("x:Q", scale=xs, axis=axis("top", X_MAJOR, MAJ)),
        y=alt.Y("y:Q", scale=ys, axis=axis("right", ymaj, MAJ)),
        order="t:Q")
    pts = alt.Chart(df).mark_circle(size=70, opacity=1, fillOpacity=0.85, strokeOpacity=0.85,
                                    stroke="black", strokeWidth=0.8, clip=True).encode(
        x=alt.X("x:Q", scale=xs, axis=axis("bottom", X_MAJOR, MAJ, xlab, ".1f")),
        y=alt.Y("y:Q", scale=ys, axis=axis("left", ymaj, MAJ, ylab, yfmt)),
        color=alt.Color("t:Q", scale=CSCALE, legend=LEGEND if legend else None))
    endp = alt.Chart(end).mark_circle(size=70, color="black", opacity=1, clip=True).encode(
        x=alt.X("x:Q", scale=xs, axis=axis("bottom", X_MINOR, MIN)),
        y=alt.Y("y:Q", scale=ys, axis=axis("left", ymin, MIN)))
    plus_w = alt.Chart(ORIGIN).mark_point(shape=PLUS, size=560, filled=False, stroke="white",
                                          strokeWidth=7.5, strokeCap="square", opacity=1).encode(
        x=alt.X("x:Q", scale=xs, axis=axis("top", X_MINOR, MIN)),
        y=alt.Y("y:Q", scale=ys, axis=axis("right", ymin, MIN)))
    plus_b = alt.Chart(ORIGIN).mark_point(shape=PLUS, size=530, filled=False, stroke="black",
                                          strokeWidth=3.5, opacity=1).encode(
        x=alt.X("x:Q", scale=xs, axis=None),
        y=alt.Y("y:Q", scale=ys, axis=None))
    labels = [text("f", 12, 30, 25, italic=True), text("gas", 21, 35, 18),
              text("= " + fg, 49, 30, 25), text(proj, 188, 30, 25, align="right")]
    return alt.layer(line, pts, endp, plus_w, plus_b, *labels, *extras).resolve_axis(
        x="independent", y="independent").properties(width=PW, height=height)


def spacer(h):
    return alt.Chart(ONE).mark_text(text=" ", opacity=0).encode(x=alt.value(100), y=alt.value(80)).properties(
        width=269, height=h, view=alt.ViewBackground(stroke="transparent", strokeWidth=0))


cells = []
for i in range(6):
    lxy, lxz, ldom, lmaj, lmin, lfmt, h = LEFT_ROWS[i]
    rxy, rxz, rdom, rmaj, rmin, rfmt, _ = RIGHT_ROWS[i]
    ex_l, ex_r, ex_rz = [], [], []
    if i == 3:
        ex_l = y_title(-74)
        ex_r = y_title(-76)
        ex_rz = [text("Time (Gyr)", 335, 1, 31, align="center", angle=270)]
    if i == 5:
        ex_l = x_title()
        ex_r = x_title()
    cells.append(panel(lxy, ldom, lmaj, lmin, lfmt, FGAS[i], "xy", h, i == 5, True, ex_l, legend=(i == 0)))
    cells.append(panel(lxz, ldom, lmaj, lmin, lfmt, FGAS[i], "xz", h, i == 5, False))
    cells.append(spacer(h))
    cells.append(panel(rxy, rdom, rmaj, rmin, rfmt, FGAS[i], "xy", h, i == 5, True, ex_r))
    cells.append(panel(rxz, rdom, rmaj, rmin, rfmt, FGAS[i], "xz", h, i == 5, False, ex_rz))

chart = alt.concat(*cells, columns=5, spacing={"row": 0, "column": 3}, align="each", bounds="flush").properties(
    padding={"left": 9, "top": 2, "right": 10, "bottom": 2}, background="white"
).configure_view(stroke="black", strokeWidth=1.5)

chart.save("out.html", embed_options={"renderer": "svg", "actions": False})
